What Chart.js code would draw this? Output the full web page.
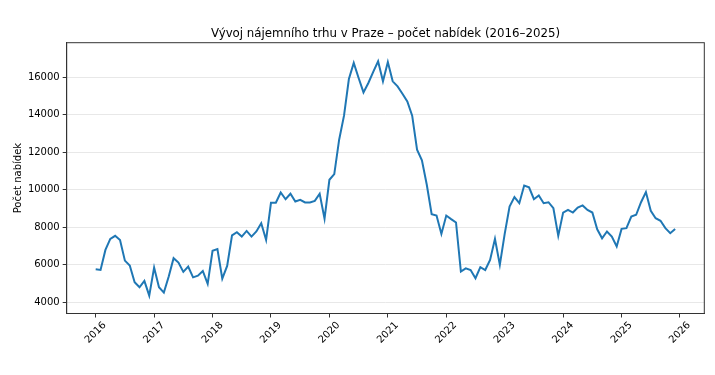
<!DOCTYPE html>
<html>
<head>
<meta charset="utf-8">
<script src="https://cdn.jsdelivr.net/npm/chart.js@4.4.1/dist/chart.umd.min.js"></script>
<style>
    html, body { margin: 0; padding: 0; background: #fff; }
    #wrap { width: 715px; height: 375px; }
</style>
</head>
<body>
<div id="wrap"><canvas id="chart"></canvas></div>
<script>
// Monthly number of rental offers in Prague, Jan..Dec of each year
const years = [2016, 2017, 2018, 2019, 2020, 2021, 2022, 2023, 2024, 2025];
const offers2016 = [5760, 5725, 6790, 7380, 7540, 7320, 6220, 5955, 5070, 4800, 5140, 4355];
const offers2017 = [5850, 4800, 4515, 5370, 6350, 6115, 5620, 5900, 5330, 5420, 5670, 4980];
const offers2018 = [6740, 6830, 5260, 5940, 7560, 7730, 7500, 7800, 7500, 7770, 8210, 7320];
const offers2019 = [9300, 9300, 9850, 9490, 9780, 9370, 9460, 9320, 9320, 9400, 9780, 8450];
const offers2020 = [10525, 10830, 12660, 13940, 15890, 16750, 15950, 15180, 15680, 16270, 16840, 15770];
const offers2021 = [16800, 15770, 15500, 15110, 14700, 13940, 12130, 11560, 10260, 8690, 8620, 7640];
const offers2022 = [8620, 8430, 8250, 5640, 5810, 5720, 5280, 5870, 5720, 6260, 7380, 5990];
const offers2023 = [7640, 9100, 9600, 9280, 10220, 10120, 9490, 9690, 9280, 9330, 9010, 7540];
const offers2024 = [8780, 8920, 8780, 9050, 9160, 8920, 8780, 7890, 7410, 7770, 7500, 6970];
const offers2025 = [7910, 7950, 8570, 8660, 9330, 9870, 8870, 8480, 8340, 7950, 7680, 7910];
const offersByYear = [offers2016, offers2017, offers2018, offers2019, offers2020,
                      offers2021, offers2022, offers2023, offers2024, offers2025];

const xTicks = [2016, 2017, 2018, 2019, 2020, 2021, 2022, 2023, 2024, 2025, 2026];
const yTicks = [4000, 6000, 8000, 10000, 12000, 14000, 16000];

const titleText = 'Vývoj nájemního trhu v Praze – počet nabídek (2016–2025)';
const yTitle = 'Počet nabídek';

// one point per month, x = decimal year
const points = [];
years.forEach((year, i) => {
    offersByYear[i].forEach((v, m) => points.push({ x: year + m / 12, y: v }));
});

// box around the plot area (matplotlib spines) + title centred over the plot
const frame = {
    id: 'frame',
    afterDraw(chart) {
        const { ctx, chartArea: a } = chart;
        ctx.save();
        ctx.strokeStyle = '#333';
        ctx.lineWidth = 1;
        ctx.strokeRect(a.left, a.top, a.right - a.left, a.bottom - a.top);
        ctx.fillStyle = '#000';
        ctx.font = '11.8px "DejaVu Sans"';
        ctx.textAlign = 'center';
        ctx.textBaseline = 'alphabetic';
        ctx.fillText(titleText, (a.left + a.right) / 2, 36.5);
        ctx.restore();
    }
};

const font = { family: 'DejaVu Sans', size: 10 };

new Chart(document.getElementById('chart'), {
    type: 'line',
    data: {
        datasets: [{
            data: points,
            borderColor: '#1f77b4',
            borderWidth: 2,
            pointRadius: 0,
            tension: 0,
            fill: false
        }]
    },
    options: {
        responsive: true,
        maintainAspectRatio: false,
        animation: false,
        layout: { padding: { left: 0, right: 10.7, top: 42.7, bottom: 0 } },
        plugins: {
            legend: { display: false },
            tooltip: { enabled: false },
            title: { display: false }
        },
        scales: {
            x: {
                type: 'linear',
                min: 2015.504,
                max: 2026.416,
                afterBuildTicks: axis => { axis.ticks = xTicks.map(v => ({ value: v })); },
                afterFit: axis => { axis.height = 61.5; },
                border: { display: true, color: '#333' },
                grid: { drawOnChartArea: false, drawTicks: true, tickLength: 4, tickColor: '#333' },
                ticks: {
                    font: font,
                    color: '#000',
                    minRotation: 45,
                    maxRotation: 45,
                    labelOffset: 9,
                    padding: 2,
                    callback: v => String(v)
                }
            },
            y: {
                min: 3403,
                max: 17827,
                afterBuildTicks: axis => { axis.ticks = yTicks.map(v => ({ value: v })); },
                afterFit: axis => { axis.width = 66.7; },
                border: { display: true, color: '#333' },
                grid: { color: '#e8e8e8', lineWidth: 1, drawTicks: true, tickLength: 4, tickColor: '#333' },
                title: {
                    display: true,
                    text: yTitle,
                    color: '#000',
                    font: font,
                    padding: { top: 12, bottom: 0 }
                },
                ticks: {
                    font: font,
                    color: '#000',
                    padding: 3,
                    callback: v => String(v)
                }
            }
        }
    },
    plugins: [frame]
});
</script>
</body>
</html>
